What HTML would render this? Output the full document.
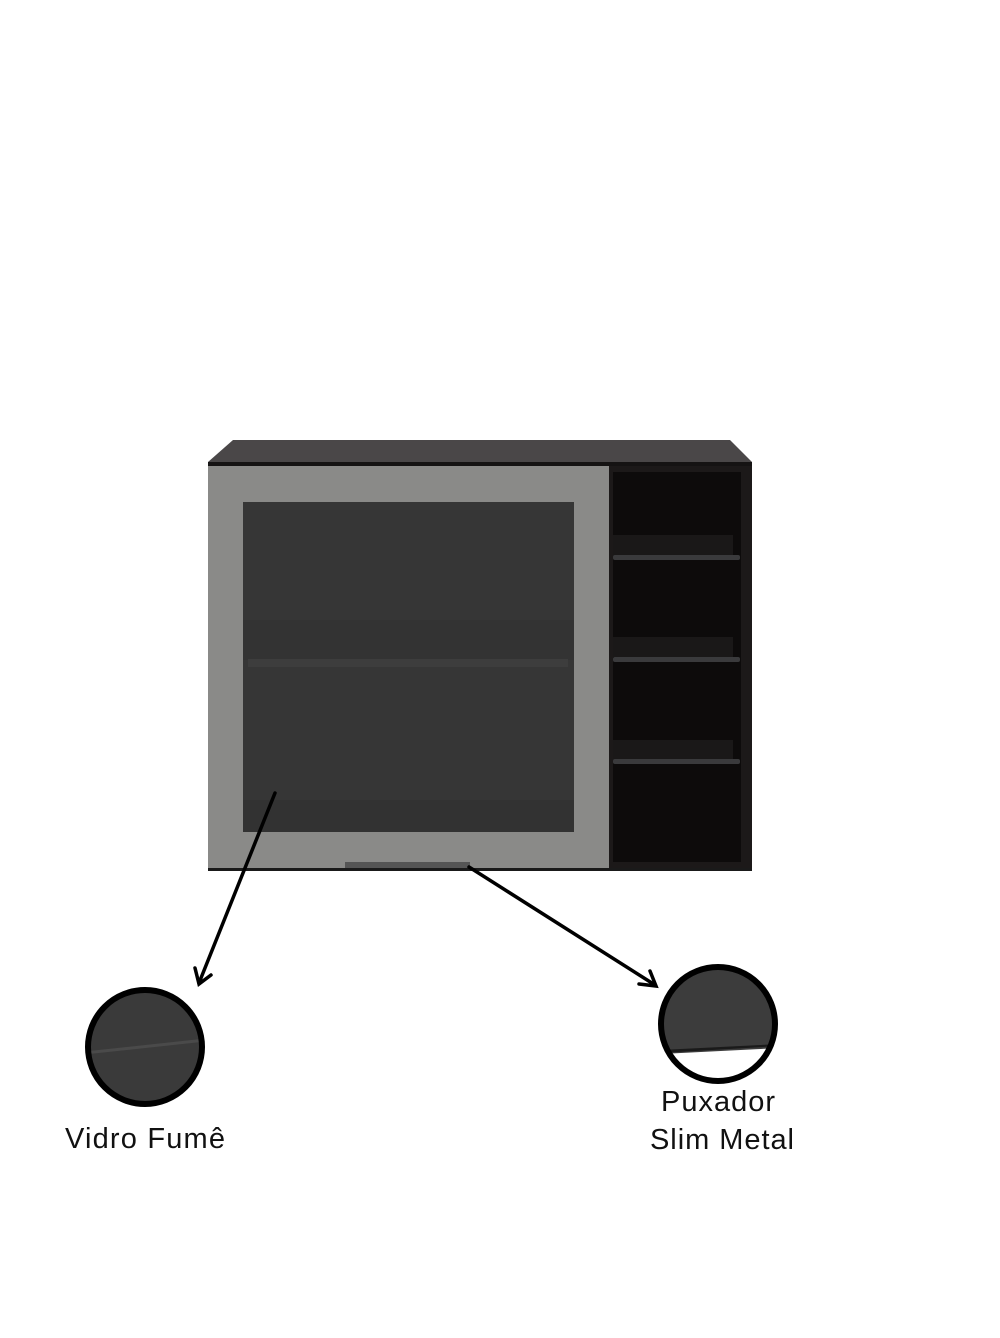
<!DOCTYPE html>
<html><head><meta charset="utf-8"><style>
body{margin:0;background:#fff;width:1000px;height:1333px;overflow:hidden;font-family:"Liberation Sans",sans-serif}
</style></head><body>
<svg width="1000" height="1333" viewBox="0 0 1000 1333" xmlns="http://www.w3.org/2000/svg">
<defs>
<clipPath id="c1"><circle cx="145" cy="1047" r="57"/></clipPath>
<clipPath id="c2"><circle cx="718" cy="1024" r="57"/></clipPath>
</defs>
<polygon points="208,462 233,440 730,440 752,462 752,468 208,468" fill="#4a4748"/>
<rect x="208" y="462" width="544" height="6" fill="#151313"/>
<rect x="609" y="466" width="143" height="405" fill="#1c1919"/>
<rect x="613" y="472" width="128" height="390" fill="#0d0b0b"/>
<rect x="613" y="535" width="120" height="22" fill="#1a1818"/>
<rect x="613" y="555" width="127" height="5" fill="#3a3a3c" rx="2"/>
<rect x="613" y="637" width="120" height="20" fill="#1a1818"/>
<rect x="613" y="657" width="127" height="5" fill="#3a3a3c" rx="2"/>
<rect x="613" y="740" width="120" height="20" fill="#1a1818"/>
<rect x="613" y="759" width="127" height="5" fill="#3a3a3c" rx="2"/>
<rect x="208" y="466" width="401" height="404" fill="#8a8a88"/>
<rect x="243" y="502" width="331" height="330" fill="#363636"/>
<rect x="243" y="620" width="331" height="40" fill="#333333"/>
<rect x="248" y="659" width="320" height="8" fill="#3d3d3d"/>
<rect x="243" y="800" width="331" height="32" fill="#323232"/>
<rect x="345" y="862" width="125" height="8" fill="#555" />
<rect x="208" y="868" width="544" height="3" fill="#1a1a1a"/>
<g stroke="#000" stroke-width="3.5" fill="none" stroke-linecap="round">
<line x1="275" y1="793" x2="199" y2="983"/>
<polyline points="195,968 199,984 211,975"/>
<line x1="469" y1="867" x2="655" y2="985"/>
<polyline points="639,984 656,986 650,971"/>
</g>
<g clip-path="url(#c1)"><rect x="80" y="985" width="130" height="130" fill="#3a3a3a"/>
<line x1="85" y1="1053" x2="205" y2="1040" stroke="#4a4a4a" stroke-width="3"/></g>
<circle cx="145" cy="1047" r="57" fill="none" stroke="#000" stroke-width="6"/>
<g clip-path="url(#c2)"><rect x="655" y="960" width="130" height="130" fill="#3c3c3c"/>
<polygon points="660,1050 780,1044 780,1046 660,1053" fill="#1a1a1a"/>
<polygon points="660,1054 780,1048 780,1090 660,1090" fill="#fff"/></g>
<circle cx="718" cy="1024" r="57" fill="none" stroke="#000" stroke-width="6"/>
<text x="145" y="1148" font-size="29" text-anchor="middle" fill="#111" textLength="160" font-family="Liberation Sans, sans-serif">Vidro Fumê</text>
<text x="718" y="1111" font-size="29" text-anchor="middle" fill="#111" textLength="114" font-family="Liberation Sans, sans-serif">Puxador</text>
<text x="722" y="1149" font-size="29" text-anchor="middle" fill="#111" textLength="144" font-family="Liberation Sans, sans-serif">Slim Metal</text>
</svg>
</body></html>
